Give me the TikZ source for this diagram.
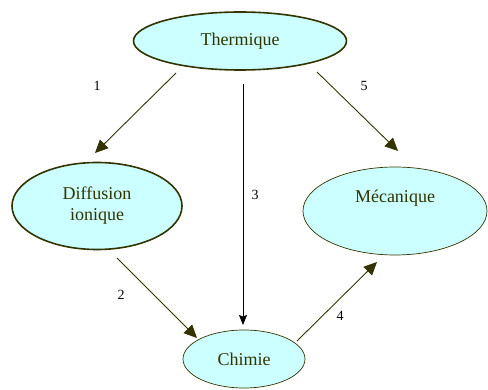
\documentclass[tikz,border=0pt]{standalone}
\usepackage{fontspec}
\setmainfont{Liberation Serif}
\usepackage{xcolor}
\usetikzlibrary{shapes.geometric,arrows.meta}
\definecolor{olivedark}{HTML}{333300}
\definecolor{bubblefill}{HTML}{CCFFFF}

\begin{document}
\begin{tikzpicture}[x=1pt, y=-1pt,
    bubble/.style={ellipse, draw=olivedark, fill=bubblefill, inner sep=0pt,
      text=olivedark, align=center, font=\fontsize{18}{21}\selectfont},
    thickrim/.style={line width=1.6pt},
    thinrim/.style={line width=0.7pt},
    flow/.style={olivedark, line width=0.9pt, -{Triangle[length=13pt,width=12pt]}},
    num/.style={font=\fontsize{14}{16}\selectfont}]
  \useasboundingbox (0,0) rectangle (488,390);
  % states
  \node[bubble, thickrim, minimum width=213pt, minimum height=58pt] (therm) at (240,41) {Thermique};
  \node[bubble, thickrim, minimum width=170pt, minimum height=87pt] (diff) at (97,206) {Diffusion\\ionique};
  \node[bubble, thinrim, minimum width=184pt, minimum height=88pt] (meca) at (395,211) {M\'ecanique\\[8pt]~};
  \node[bubble, thinrim, minimum width=122pt, minimum height=58pt] (chim) at (244,359) {Chimie};
  % free ends of the arrows
  \coordinate (s1) at (176,73);  \coordinate (e1) at (95,153);
  \coordinate (s5) at (317,72);  \coordinate (e5) at (398,151);
  \coordinate (s2) at (117,258); \coordinate (e2) at (197,338);
  \coordinate (s4) at (297,341); \coordinate (e4) at (377,262);
  \coordinate (s3) at (243,84);  \coordinate (e3) at (243,325);
  \draw[flow] (s1) -- (e1);
  \draw[flow] (s5) -- (e5);
  \draw[flow] (s2) -- (e2);
  \draw[flow] (s4) -- (e4);
  \draw[black, line width=0.9pt, -{Stealth[length=10pt,width=8pt,inset=1.5pt]}] (s3) -- (e3);
  % labels
  \node[num] (n1) at (97,86) {1};
  \node[num] (n5) at (364,86) {5};
  \node[num] (n3) at (255,195) {3};
  \node[num] (n2) at (121,295) {2};
  \node[num] (n4) at (340,316) {4};
\end{tikzpicture}
\end{document}
